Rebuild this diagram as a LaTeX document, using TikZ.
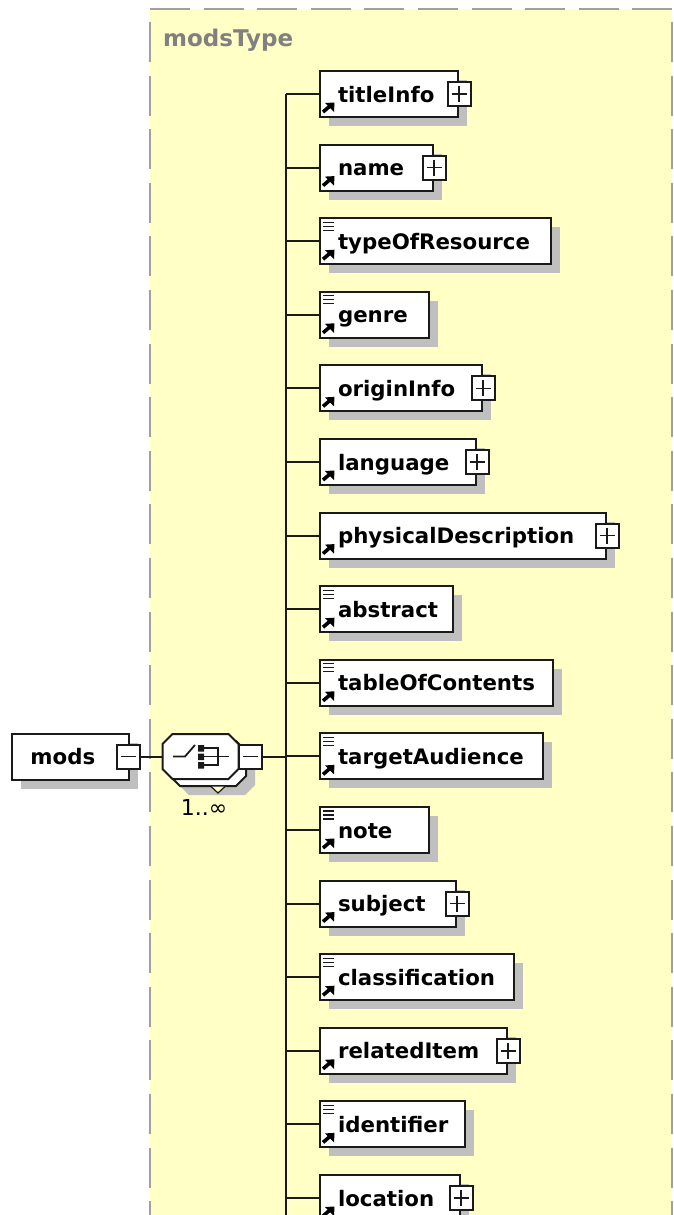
\documentclass[tikz,border=0pt]{standalone}
\usepackage{fontspec}
\setmainfont{DejaVu Sans}
\usetikzlibrary{shadows}
\definecolor{paneyellow}{HTML}{FFFFC6}
\definecolor{panedash}{HTML}{A0A0A0}
\definecolor{boxshadow}{HTML}{BFBFBF}
\definecolor{linedark}{HTML}{1A1A1A}
\newcommand{\octpath}[2]{(#1-38,#2-12.5) -- (#1-28,#2-22.5) -- (#1+28,#2-22.5) -- (#1+38,#2-12.5) -- (#1+38,#2+12.5) -- (#1+28,#2+22.5) -- (#1-28,#2+22.5) -- (#1-38,#2+12.5) -- cycle}
\tikzset{
  x=1pt,y=-1pt,
  conn/.style={draw=linedark,line width=2pt},
  boxshadowed/.style={drop shadow={shadow xshift=9pt,shadow yshift=-9pt,fill=boxshadow,opacity=1}},
  elem/.style={conn,fill=white,boxshadowed,anchor=west,inner sep=0pt,minimum height=46pt,
    align=left,text height=18pt,text depth=2pt,font=\fontsize{21.3}{22}\selectfont\bfseries},
  togglebox/.style={draw=linedark,line width=2pt,fill=white,inner sep=0pt,minimum width=23pt,minimum height=24pt},
  plusbox/.style={togglebox,path picture={
    \draw[line width=1.7pt,linedark] ([xshift=4pt]path picture bounding box.west) -- ([xshift=-4pt]path picture bounding box.east);
    \draw[line width=1.7pt,linedark] ([yshift=-4pt]path picture bounding box.north) -- ([yshift=4pt]path picture bounding box.south);}},
  minusbox/.style={togglebox,path picture={
    \draw[line width=1.7pt,linedark] ([xshift=4pt]path picture bounding box.west) -- ([xshift=-4pt]path picture bounding box.east);}},
  panedashes/.style={draw=panedash,line width=2pt,dash pattern=on 40pt off 13.6pt},
}
\begin{document}
\begin{tikzpicture}
\useasboundingbox (0,0) rectangle (674,1215);
\clip (0,0) rectangle (674,1215);

% yellow pane
\fill[paneyellow] (150,9) rectangle (672,1215);
\draw[panedashes] (150,9) -- (672,9);
\draw[panedashes] (150,22) -- (150,1215);
\draw[panedashes] (672,22) -- (672,1215);
\node[anchor=west,inner sep=0pt,text=gray,font=\fontsize{23}{24}\selectfont\bfseries] (panetitle) at (163,40) {modsType};

\coordinate (trunktop) at (286,94);
\coordinate (trunkend) at (286,1215);

% root and sequence
\node[elem,minimum width=117pt,text width=116pt] (mods) at (11,756.5) {\hspace*{18pt}mods};
\fill[boxshadow] \octpath{217}{772.5};
\filldraw[conn,fill=white] \octpath{208}{763.5};
\filldraw[line width=1.2pt,draw=linedark,fill=paneyellow] (211,786.5) -- (218,793) -- (225,786.5);
\filldraw[conn,fill=white] \octpath{200.5}{756.5};
\node[inner sep=0pt,minimum width=76pt,minimum height=45pt] (seq) at (200.5,756.5) {};
\node[minusbox] (modsminus) at (128,756.5) {};
\node[minusbox] (seqminus) at (250.5,756.5) {};
\node[inner sep=0pt,font=\fontsize{22}{22}\selectfont] (card) at (204,807) {1..∞};

% sequence symbol
\draw[line width=1.8pt,linedark] (173,756.5) -- (185,756.5) -- (195,745);
\fill[linedark] (198,745) rectangle (204,751.5) (198,753.5) rectangle (204,760) (198,762) rectangle (204,768.5);
\draw[line width=1.8pt,linedark] (204,748) -- (218,748) -- (218,765) -- (204,765) (204,756.5) -- (229,756.5);

\draw[conn] (modsminus) -- (seq);
\draw[conn] (seqminus) -- (trunktop |- seqminus);
\draw[conn] (trunktop) -- (trunkend);

% children: index/name/right edge/doc lines/expandable
\foreach \i/\name/\edge/\doc/\more in {
  0/titleInfo/458/0/1, 1/name/433/0/1, 2/typeOfResource/551/1/0, 3/genre/429/1/0,
  4/originInfo/482/0/1, 5/language/476/0/1, 6/physicalDescription/606/0/1, 7/abstract/453/1/0,
  8/tableOfContents/553/1/0, 9/targetAudience/543/1/0, 10/note/429/1/0, 11/subject/456/0/1,
  12/classification/514/1/0, 13/relatedItem/507/0/1, 14/identifier/465/1/0, 15/location/460/0/1}{
  \pgfmathsetmacro\rowy{94+73.6*\i}
  \pgfmathsetmacro\rowwd{\edge-320}
  \draw[conn] (trunktop |- 0,\rowy) -- (319,\rowy);
  \node[elem,minimum width=\rowwd pt,text width=\rowwd pt] (child\i) at (319,\rowy) {\hspace*{18pt}\name};
  % reference arrow
  \draw[line width=3.6pt,black] ([xshift=4pt,yshift=6pt]child\i.south west) -- ++(7,-6);
  \fill[black] ([xshift=15.5pt,yshift=15.5pt]child\i.south west) -- ++(-9.5,.5) -- ++(9,9) -- cycle;
  \ifnum\doc=1
    \draw[line width=1.2pt,linedark] ([xshift=4pt,yshift=-5pt]child\i.north west) -- ++(11,0)
      ([xshift=4pt,yshift=-9pt]child\i.north west) -- ++(11,0)
      ([xshift=4pt,yshift=-13pt]child\i.north west) -- ++(11,0);
  \fi
  \ifnum\more=1
    \node[plusbox] (plus\i) at (child\i.east) {};
  \fi
}
\end{tikzpicture}
\end{document}
